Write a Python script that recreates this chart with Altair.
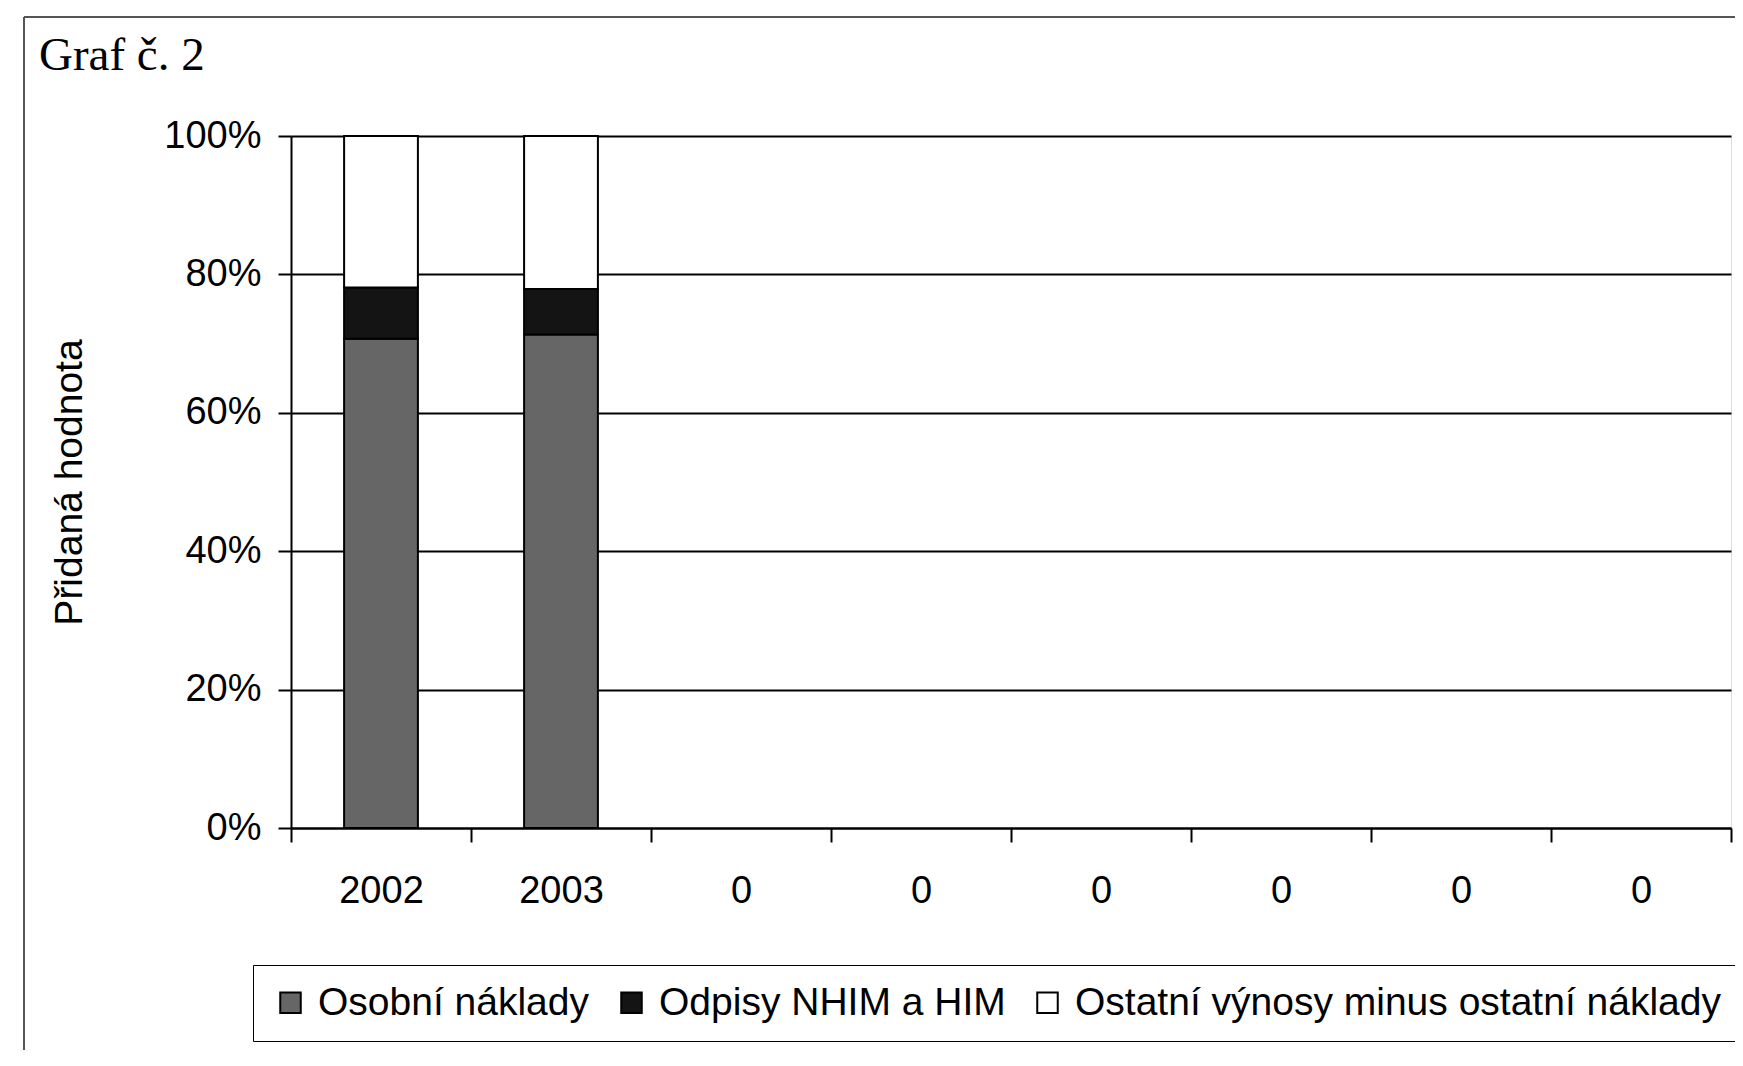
import altair as alt
import pandas as pd

# ---- data ----
chart_title = "Graf č. 2"
category_labels = ["2002", "2003", "0", "0", "0", "0", "0", "0"]
series_names = ["Osobní náklady", "Odpisy NHIM a HIM", "Ostatní výnosy minus ostatní náklady"]
osobni_naklady = [70.7, 71.3]
odpisy = [7.4, 6.6]
ostatni = [21.9, 22.1]
series_colors = ["#666666", "#141414", "#ffffff"]
y_ticks = [0, 0.2, 0.4, 0.6, 0.8, 1.0]

rows = []
for slot in range(len(osobni_naklady)):
    for k, vals in enumerate([osobni_naklady, odpisy, ostatni]):
        rows.append({"slot": slot, "serie": series_names[k], "poradi": k, "hodnota": vals[slot]})
df = pd.DataFrame(rows)
title_df = pd.DataFrame({"t": [chart_title]})

label_expr = "[" + ",".join("'" + c + "'" for c in category_labels) + "][datum.value]"

FONT = "Liberation Sans"

bars = alt.Chart(df).mark_bar(
    stroke="black", strokeWidth=2, width=alt.RelativeBandSize(0.41)
).encode(
    x=alt.X("slot:O",
            scale=alt.Scale(domain=list(range(len(category_labels))), paddingInner=0, paddingOuter=0),
            axis=alt.Axis(title=None, labelExpr=label_expr, labelAngle=0, tickBand="extent",
                          tickSize=14, tickWidth=2, tickColor="black", domainColor="black",
                          domainWidth=2, labelFont=FONT, labelFontSize=38, labelColor="black",
                          labelPadding=30, grid=False)),
    y=alt.Y("hodnota:Q", stack="normalize",
            scale=alt.Scale(domain=[0, 1]),
            axis=alt.Axis(title="Přidaná hodnota", values=y_ticks, format=".0%",
                          tickSize=13, tickWidth=2, tickColor="black", domainColor="black",
                          domainWidth=2, labelFont=FONT, labelFontSize=38, labelColor="black",
                          labelPadding=17, grid=True, gridColor="black", gridWidth=2,
                          gridOpacity=1, titleFont=FONT, titleFontSize=39,
                          titleFontWeight="normal", titleColor="black",
                          titleX=-222, titleBaseline="middle")),
    color=alt.Color("serie:N",
                    scale=alt.Scale(domain=series_names, range=series_colors),
                    legend=alt.Legend(title=None, orient="none", legendX=-38, legendY=829,
                                      direction="horizontal", symbolType="square",
                                      symbolSize=420, symbolStrokeColor="black",
                                      symbolStrokeWidth=2, labelFont=FONT, labelFontSize=39,
                                      labelColor="black", labelLimit=1000, columnPadding=22,
                                      symbolOffset=0, labelOffset=8,
                                      strokeColor="black", padding=18,
                                      fillColor="white")),
    order=alt.Order("poradi:Q", sort="ascending"),
)

frame_left = alt.Chart(df).mark_rule(color="#555555", strokeWidth=2).encode(
    x=alt.value(-267), y=alt.value(-119), y2=alt.value(940))
frame_top = alt.Chart(df).mark_rule(color="#555555", strokeWidth=2).encode(
    x=alt.value(-267), x2=alt.value(1500), y=alt.value(-119))

title_text = alt.Chart(title_df).mark_text(
    align="left", baseline="alphabetic", font="Liberation Serif", fontSize=47, color="black"
).encode(x=alt.value(-252), y=alt.value(-66), text="t:N")

chart = alt.layer(frame_left, frame_top, title_text, bars).properties(
    width=1440, height=692,
    autosize=alt.AutoSizeParams(type="none"),
    padding={"left": 283, "top": 128, "right": 4, "bottom": 222},
).configure_view(stroke="black", strokeWidth=2).configure(background="white")

chart.save("out.html", embed_options={"renderer": "svg", "actions": False})
